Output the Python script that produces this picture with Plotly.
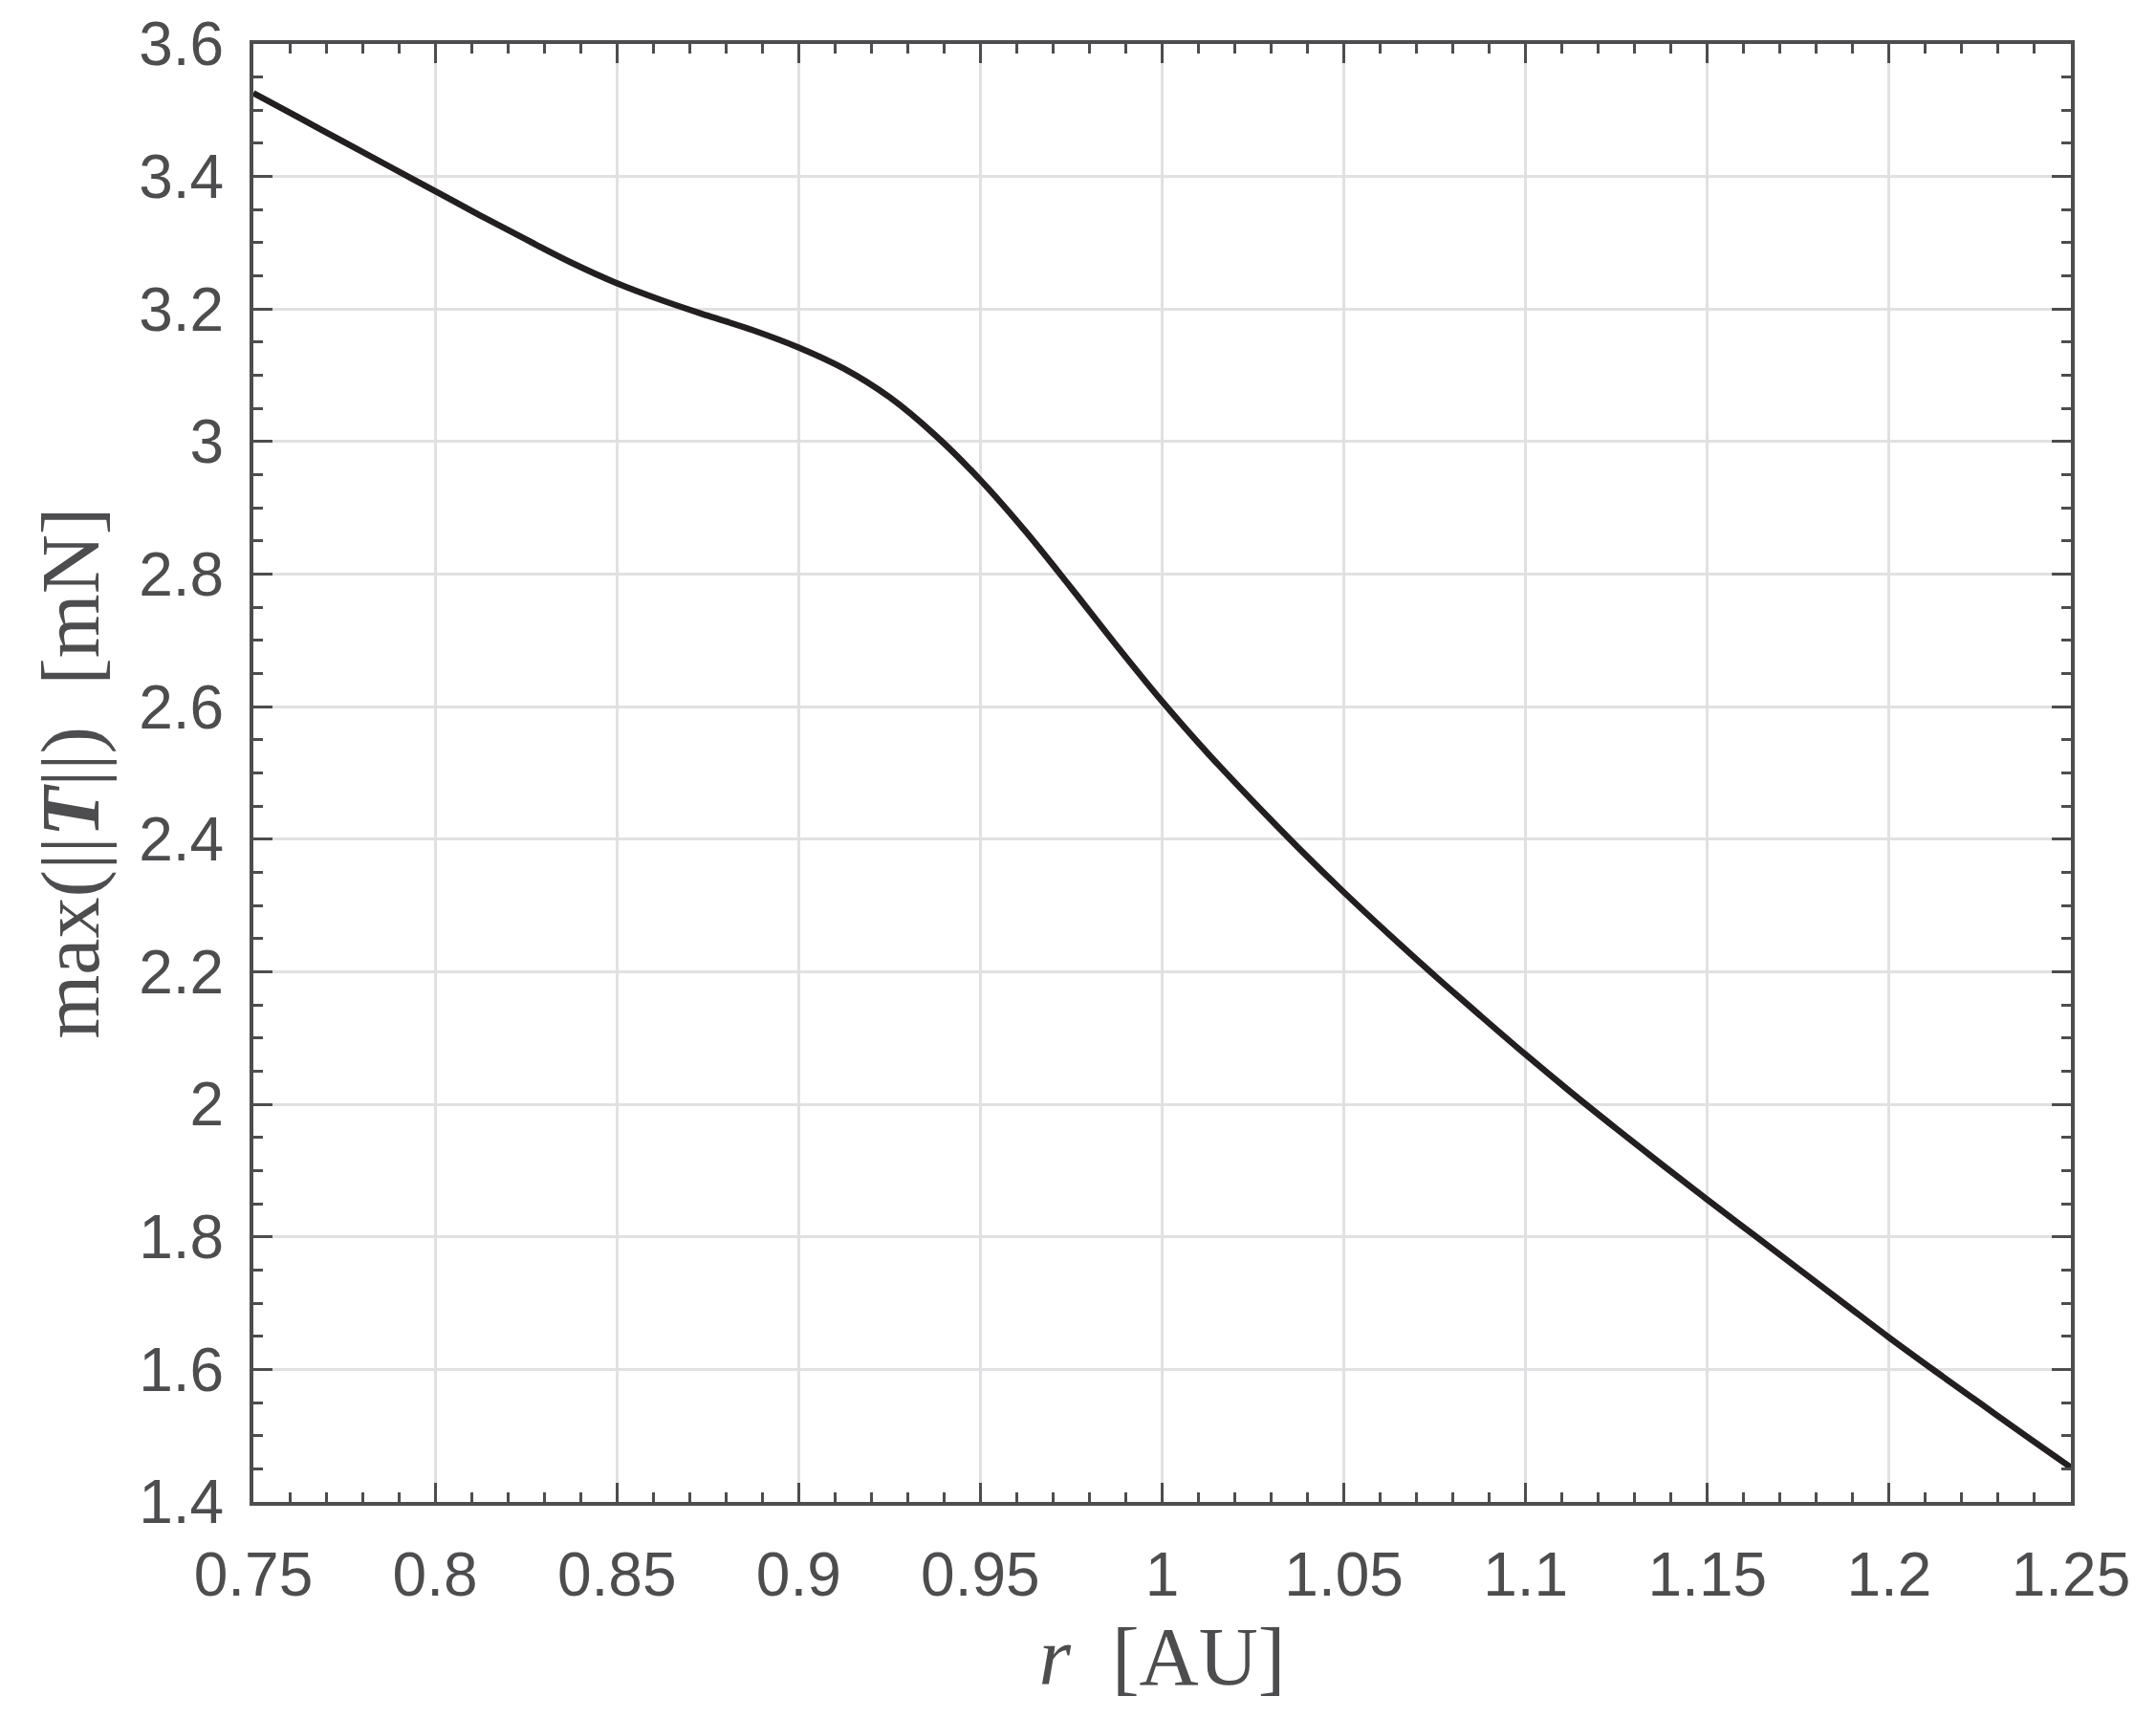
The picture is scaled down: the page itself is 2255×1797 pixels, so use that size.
import plotly.graph_objects as go

# Data
r_au = [0.75, 0.7625, 0.775, 0.7875, 0.8, 0.8125, 0.825, 0.8375, 0.85, 0.8625,
        0.875, 0.8875, 0.9, 0.9125, 0.925, 0.9375, 0.95, 0.9625, 0.975, 0.9875,
        1.0, 1.0125, 1.025, 1.0375, 1.05, 1.0625, 1.075, 1.0875, 1.1, 1.1125,
        1.125, 1.1375, 1.15, 1.1625, 1.175, 1.1875, 1.2, 1.2125, 1.225, 1.2375,
        1.25]
t_max_mN = [3.526, 3.489, 3.452, 3.415, 3.378, 3.341, 3.305, 3.270, 3.239, 3.213,
            3.190, 3.168, 3.142, 3.110, 3.067, 3.010, 2.942, 2.864, 2.779, 2.692,
            2.608, 2.530, 2.457, 2.387, 2.320, 2.256, 2.194, 2.134, 2.075, 2.018,
            1.963, 1.909, 1.856, 1.804, 1.752, 1.700, 1.648, 1.598, 1.549, 1.500,
            1.452]

x_tick_vals = [0.75, 0.8, 0.85, 0.9, 0.95, 1.0, 1.05, 1.1, 1.15, 1.2, 1.25]
x_tick_text = ["0.75", "0.8", "0.85", "0.9", "0.95", "1", "1.05", "1.1", "1.15", "1.2", "1.25"]
y_tick_vals = [1.4, 1.6, 1.8, 2.0, 2.2, 2.4, 2.6, 2.8, 3.0, 3.2, 3.4, 3.6]
y_tick_text = ["1.4", "1.6", "1.8", "2", "2.2", "2.4", "2.6", "2.8", "3", "3.2", "3.4", "3.6"]

AX = "#4d4d4f"
GRID = "#e1e1e3"

fig = go.Figure(
    go.Scatter(
        x=r_au, y=t_max_mN, mode="lines",
        line=dict(color="#231f20", width=6.5, shape="spline", smoothing=1.0),
        showlegend=False, hoverinfo="x+y",
    )
)

common = dict(
    showline=True, linecolor=AX, linewidth=4, mirror="allticks",
    ticks="inside", ticklen=20, tickwidth=3, tickcolor=AX,
    showgrid=True, gridcolor=GRID, gridwidth=3, zeroline=False,
    tickfont=dict(family="Liberation Sans, Arial, sans-serif", size=64, color=AX),
    tickmode="array",
)

fig.update_xaxes(
    **common,
    range=[0.75, 1.25],
    tickvals=x_tick_vals, ticktext=x_tick_text,
    ticklabelstandoff=17,
    minor=dict(ticks="inside", ticklen=10, tickwidth=3, tickcolor=AX,
               dtick=0.01, tick0=0.75, showgrid=False),
    title=dict(text="<i>r</i>\u2002[AU]", standoff=21,
               font=dict(family="Liberation Serif, Times New Roman, serif", size=86, color=AX)),
)
fig.update_yaxes(
    **common,
    range=[1.4, 3.6],
    tickvals=y_tick_vals, ticktext=y_tick_text,
    ticklabelstandoff=14,
    minor=dict(ticks="inside", ticklen=10, tickwidth=3, tickcolor=AX,
               dtick=0.05, tick0=1.4, showgrid=False),
    title=dict(text="max(||<b><i>T</i></b>||)\u2002[mN]", standoff=14,
               font=dict(family="Liberation Serif, Times New Roman, serif", size=86, color=AX)),
)

# page body keeps an 8px default margin, so the figure is sized to fit inside it
fig.update_layout(
    width=2239, height=1781,
    margin=dict(l=257, r=81, t=38, b=218, autoexpand=False),
    plot_bgcolor="white", paper_bgcolor="white",
)

fig.write_html("out.html")
